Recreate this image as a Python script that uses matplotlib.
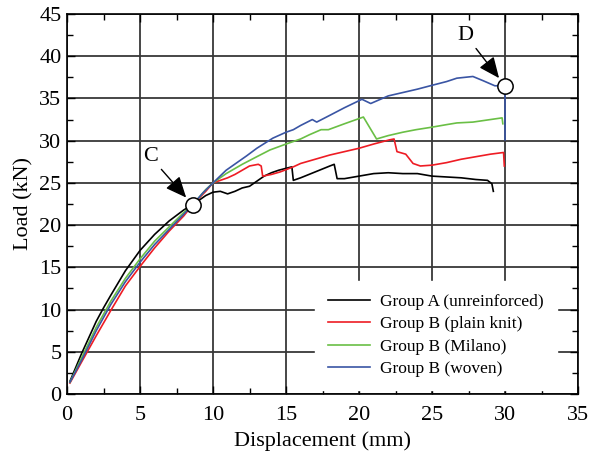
import numpy as np
import matplotlib.pyplot as plt
from matplotlib.ticker import MultipleLocator

plt.rcParams['font.family'] = ['Liberation Serif', 'DejaVu Serif']

# load-displacement curves (mm, kN)
xa = [0.2, 1, 2, 2.5, 3, 4, 5, 6, 7, 8, 8.6, 9.5, 10, 10.5, 11, 11.5, 12, 12.5, 13, 13.5,
      14, 14.5, 15.4, 15.5, 16, 17, 18, 18.3, 18.5, 19, 20, 21, 22, 23, 24, 25, 26, 27,
      28, 28.8, 29.1, 29.2]
ya = [1.5, 4.8, 8.6, 10.2, 11.7, 14.6, 17.0, 18.9, 20.5, 21.8, 22.4, 23.5, 23.9, 24.0,
      23.7, 24.0, 24.4, 24.6, 25.2, 25.8, 26.2, 26.5, 26.9, 25.3, 25.6, 26.3, 27.0, 27.2,
      25.5, 25.5, 25.8, 26.1, 26.2, 26.1, 26.1, 25.8, 25.7, 25.6, 25.4, 25.3, 24.9, 24.0]

xr = [0.2, 1, 2, 3, 4, 5, 6, 7, 8, 8.6, 9.5, 10, 11, 11.5, 12.5, 13.1, 13.3, 13.4, 14,
      14.6, 15.5, 16, 17, 18, 19, 20, 21, 22.1, 22.4, 22.6, 23.2, 23.7, 24.2, 25, 26, 27,
      28, 29, 29.9, 29.95]
yr = [1.3, 3.8, 6.9, 9.9, 12.8, 15.1, 17.3, 19.3, 21.1, 22.4, 24.0, 25.0, 25.6, 26.0,
      27.0, 27.2, 27.0, 25.8, 26.0, 26.3, 26.9, 27.3, 27.8, 28.3, 28.7, 29.1, 29.6, 30.1,
      30.2, 28.7, 28.4, 27.3, 27.0, 27.1, 27.4, 27.8, 28.1, 28.4, 28.6, 27.0]

xg = [0.2, 1, 2, 3, 4, 5, 6, 7, 8, 8.6, 9.5, 10, 10.9, 12, 13, 13.9, 15, 16, 16.6, 17.4,
      17.9, 19, 20.3, 21.2, 22, 23, 23.9, 25, 26, 26.7, 27.8, 29, 29.8, 29.85]
yg = [1.4, 4.3, 7.9, 11.0, 13.7, 16.0, 18.1, 19.8, 21.5, 22.4, 24.2, 25.0, 26.1, 27.2,
      28.1, 28.9, 29.6, 30.2, 30.7, 31.3, 31.3, 32.0, 32.8, 30.2, 30.6, 31.0, 31.3, 31.6,
      31.9, 32.1, 32.2, 32.5, 32.7, 32.0]

xb = [0.2, 1, 2, 3, 4, 5, 6, 7, 8, 8.6, 9.3, 10, 10.9, 12.3, 13, 14.1, 15, 15.5, 16, 16.8,
      17.1, 18, 19, 20.2, 20.8, 22, 23, 24, 25.1, 26, 26.7, 27.8, 28.5, 29.3, 30.0, 30.0]
yb = [1.4, 4.0, 7.5, 10.6, 13.3, 15.6, 17.7, 19.5, 21.3, 22.4, 23.8, 25.0, 26.5, 28.2,
      29.1, 30.3, 31.0, 31.3, 31.8, 32.5, 32.2, 33.0, 33.9, 34.9, 34.4, 35.3, 35.7, 36.1,
      36.6, 37.0, 37.4, 37.6, 37.1, 36.5, 36.5, 30.1]

names = ['Group A (unreinforced)', 'Group B (plain knit)', 'Group B (Milano)', 'Group B (woven)']
colors = ['black', '#ee1c24', '#6abf45', '#3a55a4']

pt_c = (8.6, 22.4)
pt_d = (30.0, 36.5)

fig = plt.figure(figsize=(5.9, 4.62), dpi=100)
ax = fig.add_axes([0.1136, 0.1472, 0.8661, 0.8225])

for xs, ys, nm, cl in zip([xa, xr, xg, xb], [ya, yr, yg, yb], names, colors):
    ax.plot(xs, ys, color=cl, lw=1.2, label=nm)

ax.set_xlim(0, 35)
ax.set_ylim(0, 45)
ax.xaxis.set_major_locator(MultipleLocator(5))
ax.yaxis.set_major_locator(MultipleLocator(5))
ax.xaxis.set_minor_locator(MultipleLocator(2.5))
ax.yaxis.set_minor_locator(MultipleLocator(2.5))
ax.tick_params(which='both', direction='in', top=True, right=True, labelsize=16)
ax.tick_params(which='major', length=6, width=1)
ax.tick_params(which='minor', length=4, width=1)
ax.tick_params(axis='x', pad=9)
ax.tick_params(axis='y', pad=4)
ax.grid(True, which='major', color='#383838', lw=1.3)
ax.set_axisbelow(True)
for s in ax.spines.values():
    s.set_linewidth(1.2)

ax.set_xlabel('Displacement (mm)', fontsize=16, labelpad=4)
ax.set_ylabel('Load (kN)', fontsize=16, labelpad=4)

ax.plot(*pt_c, 'o', ms=11, mfc='white', mec='black', mew=1.1, zorder=5)
ax.plot(*pt_d, 'o', ms=11, mfc='white', mec='black', mew=1.1, zorder=5)
arr = dict(arrowstyle='-|>,head_length=0.8,head_width=0.35', color='black', lw=1,
           shrinkA=1, shrinkB=7)
ax.annotate('C', xy=pt_c, xytext=(5.7, 28.1), fontsize=16, ha='center', va='center',
            arrowprops=arr)
ax.annotate('D', xy=pt_d, xytext=(27.3, 42.5), fontsize=16, ha='center', va='center',
            arrowprops=arr)

leg = ax.legend(loc='lower right', bbox_to_anchor=(0.975, -0.012), fontsize=12.5,
                frameon=True, fancybox=False, edgecolor='white', framealpha=1,
                handlelength=2.4, handletextpad=0.6, labelspacing=0.35, borderpad=0.75)

fig.savefig('out.png', dpi=100)
